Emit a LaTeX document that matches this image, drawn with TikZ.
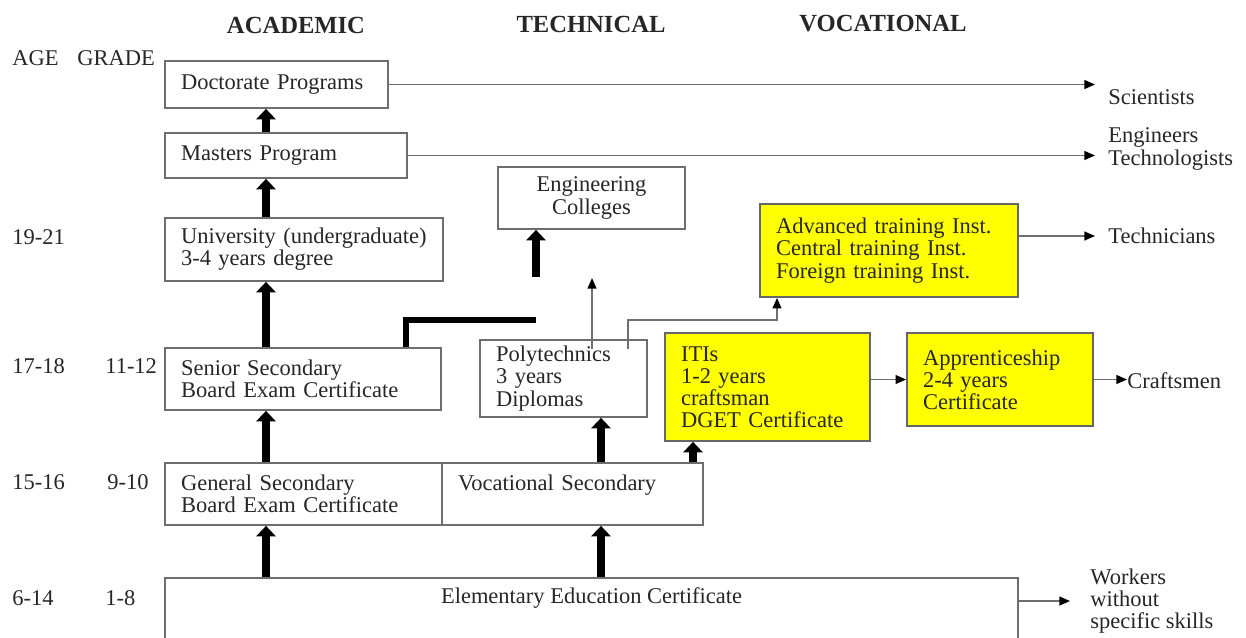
\documentclass[tikz,border=0pt]{standalone}
\usepackage{fontspec}
\setmainfont{Liberation Serif}
\usetikzlibrary{arrows.meta,calc}
\definecolor{edgegray}{HTML}{6E6E6E}
\definecolor{boxyellow}{HTML}{FFFF00}

\begin{document}
\begin{tikzpicture}[x=0.02cm,y=-0.02cm,
	every node/.style={font=\fontsize{12.8}{12.6}\selectfont,text=black!85},
	box/.style={draw=edgegray,line width=1pt,inner xsep=0.32cm,inner ysep=0pt,align=left},
	ybox/.style={box,fill=boxyellow,draw=black!60},
	head/.style={font=\fontsize{14}{16}\selectfont\bfseries},
	lbl/.style={anchor=west,inner sep=0pt},
	outlbl/.style={anchor=west,inner sep=0pt,align=left},
	thickup/.style={line width=4pt,-{Triangle[length=6pt,width=11pt]}},
	thickline/.style={line width=3pt},
	tarrow/.style={draw=edgegray,line width=0.9pt,-{Triangle[length=6pt,width=5pt,black]}}]
	\path[use as bounding box,clip] (0,0) rectangle (1246,637);

	\node[head] (acad) at (296,25) {ACADEMIC};
	\node[head] (techn) at (591,24) {TECHNICAL};
	\node[head] (voc) at (883,24) {VOCATIONAL};

	\node[lbl] (age) at (12,58) {AGE};
	\node[lbl] (grade) at (77,58) {GRADE};
	\node[lbl] (a1) at (12,237) {19-21};
	\node[lbl] (a2) at (12,366) {17-18};
	\node[lbl] (g2) at (105,366) {11-12};
	\node[lbl] (a3) at (12,482) {15-16};
	\node[lbl] (g3) at (107,482) {9-10};
	\node[lbl] (a4) at (12,598) {6-14};
	\node[lbl] (g4) at (105,598) {1-8};

	\node[box,text width=3.82cm,minimum height=0.94cm] (doct) at (276.5,84.5) {Doctorate Programs};
	\node[box,text width=4.20cm,minimum height=0.90cm] (mast) at (286,155.5) {Masters Program};
	\node[box,text width=4.92cm,minimum height=1.26cm] (univ) at (304,249.5) {University (undergraduate)\\3-4 years degree};
	\node[box,text width=4.88cm,minimum height=1.24cm] (senior) at (303,379) {Senior Secondary\\Board Exam Certificate};
	\node[box,text width=4.90cm,minimum height=1.24cm] (gensec) at (303.5,494) {General Secondary\\Board Exam Certificate};
	\node[box,text width=4.58cm,minimum height=1.24cm] (vocsec) at (572.5,494) {Vocational Secondary\\\mbox{}};
	\node[box,align=center,text width=3.10cm,minimum height=1.24cm] (engcol) at (591.5,198) {Engineering\\Colleges};
	\node[box,text width=2.70cm,minimum height=1.54cm] (poly) at (563.5,378.5) {Polytechnics\\3 years\\Diplomas};
	\node[ybox,text width=4.52cm,minimum height=1.86cm] (adv) at (889,250.5) {Advanced training Inst.\\Central training Inst.\\Foreign training Inst.};
	\node[ybox,text width=3.46cm,minimum height=2.16cm] (iti) at (767.5,387) {ITIs\\1-2 years\\craftsman\\DGET Certificate};
	\node[ybox,text width=3.08cm,minimum height=1.86cm] (appr) at (1000,379.5) {Apprenticeship\\2-4 years\\Certificate};
	\node[draw=edgegray,line width=1pt,inner sep=0pt,minimum width=17.06cm,minimum height=1.64cm] (elem) at (591.5,619) {};
	\node (elemlbl) at (591.5,598) {Elementary Education Certificate};

	\node[outlbl] (sci) at (1108,97) {Scientists};
	\node[outlbl] (engr) at (1108,149) {Engineers\\Technologists};
	\node[outlbl] (tech) at (1108,236) {Technicians};
	\node[outlbl] (craft) at (1127,381) {Craftsmen};
	\node[outlbl] (work) at (1090,601) {Workers\\without\\specific skills};

	\coordinate (acol) at (266,0);
	\coordinate (tcol) at (601,0);
	\coordinate (vcol) at (693,0);
	\coordinate (ecol) at (536,277);
	\coordinate (lbend) at (406,320);
	\coordinate (lend) at (536,320);
	\coordinate (ptip) at (592,278);
	\coordinate (c1) at (628,320);
	\coordinate (c2) at (777,320);

	\draw[thickup] (mast.north -| acol) -- (doct.south -| acol);
	\draw[thickup] (univ.north -| acol) -- (mast.south -| acol);
	\draw[thickup] (senior.north -| acol) -- (univ.south -| acol);
	\draw[thickup] (gensec.north -| acol) -- (senior.south -| acol);
	\draw[thickup] (elem.north -| acol) -- (gensec.south -| acol);
	\draw[thickup] (elem.north -| tcol) -- (vocsec.south -| tcol);
	\draw[thickup] (vocsec.north -| tcol) -- (poly.south -| tcol);
	\draw[thickup] (vocsec.north -| vcol) -- (iti.south -| vcol);
	\draw[thickup] (ecol) -- (engcol.south -| ecol);
	\draw[thickline] (senior.north -| lbend) -- (lbend) -- (lend);

	\draw[tarrow] ($(poly.north -| ptip)+(0,10)$) -- (ptip);
	\draw[tarrow] ($(poly.north -| c1)+(0,10)$) -- (c1) -- (c2) -- (adv.south -| c2);

	\draw[tarrow,shorten >=0.26cm] (doct.east) -- (doct.east -| sci.west);
	\draw[tarrow,shorten >=0.26cm] (mast.east) -- (mast.east -| engr.west);
	\draw[tarrow,shorten >=0.26cm] (adv.east |- tech.west) -- (tech.west);
	\draw[tarrow] (iti.east |- appr.west) -- (appr.west);
	\draw[tarrow] (appr.east) -- (appr.east -| craft.west);
	\draw[tarrow,shorten >=0.4cm] (elem.east |- work.west) -- (work.west);
\end{tikzpicture}
\end{document}
